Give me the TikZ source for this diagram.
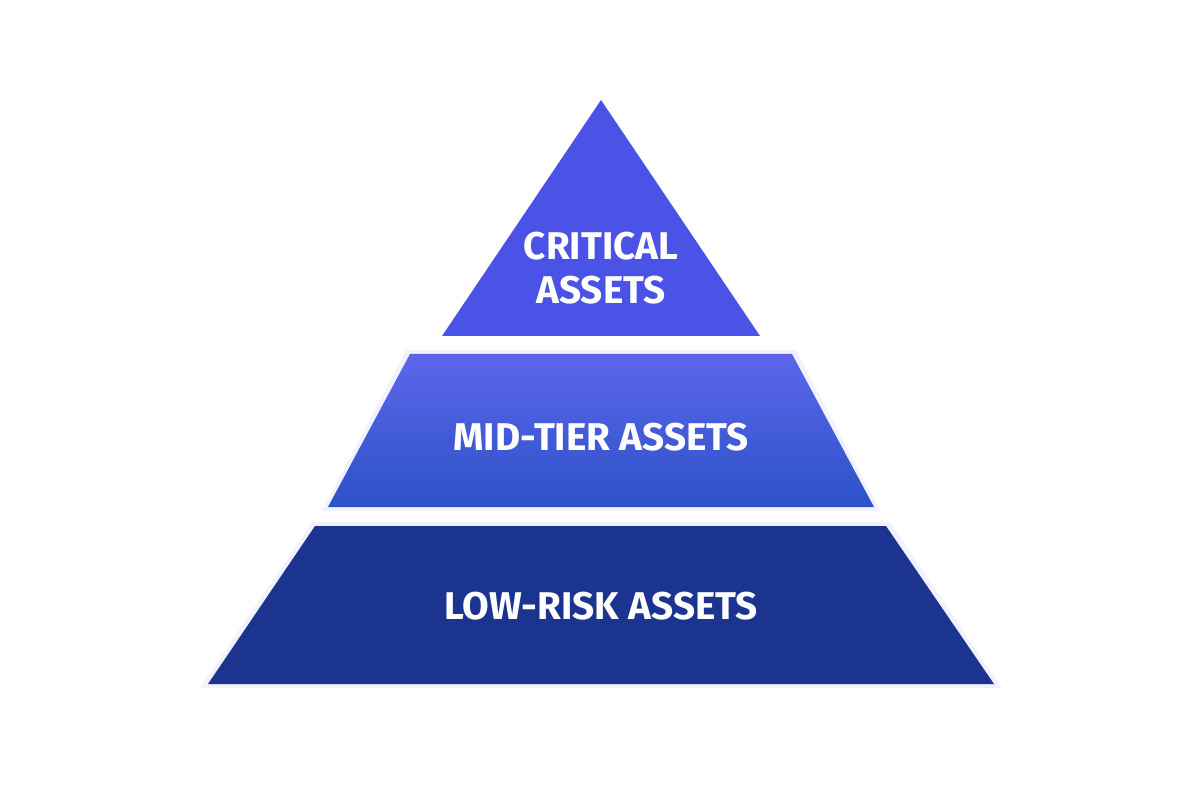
\documentclass[tikz,border=0pt]{standalone}
\usepackage{fontspec}
\setmainfont{Fira Sans}
\usetikzlibrary{calc}
\definecolor{topblue}{HTML}{4B52E6}
\definecolor{midtop}{HTML}{5C66EA}
\definecolor{midbot}{HTML}{2C52C8}
\definecolor{lowblue}{HTML}{1B3490}
\tikzset{
  tier/.style={draw=none},
  tiertext/.style={text=white,font=\fontsize{22}{25}\selectfont\bfseries,align=center},
  glow/.style={fill=blue!40,opacity=0.12}
}
\begin{document}
\begin{tikzpicture}[x=0.02cm,y=-0.02cm]
  \useasboundingbox[fill=white] (0,0) rectangle (1200,800);

  % soft shadows
  \fill[glow] (200,688) -- (312,522) -- (890,522) -- (1002,688) -- cycle;
  \fill[glow] (322,511) -- (406,350) -- (796,350) -- (880,511) -- cycle;

  % tiers
  \fill[tier,topblue] (601,100) -- (760,336) -- (442,336) -- cycle;
  \shade[tier,top color=midtop,bottom color=midbot] (410,354) -- (792,354) -- (874,507) -- (328,507) -- cycle;
  \fill[tier,lowblue] (315,526) -- (886,526) -- (994,684) -- (208,684) -- cycle;

  % labels
  \node[tiertext] (crit) at (601,268) {CRITICAL\\ASSETS};
  \node[tiertext] (mid) at (601,437) {MID-TIER ASSETS};
  \node[tiertext] (low) at (601,606) {LOW-RISK ASSETS};
\end{tikzpicture}
\end{document}
